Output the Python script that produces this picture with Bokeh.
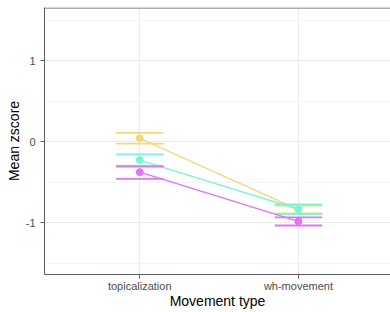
from bokeh.plotting import figure
from bokeh.models import FixedTicker, ColumnDataSource, Span
from bokeh.embed import file_html
from bokeh.resources import INLINE

categories = ["topicalization", "wh-movement"]
series_names = ["A", "B", "C"]
series_colors = ["#F5D77A", "#80F2D8", "#DD77F2"]
means = [[0.04, -0.84], [-0.228, -0.835], [-0.377, -0.985]]
upper = [[0.108, -0.79], [-0.158, -0.775], [-0.307, -0.935]]
lower = [[-0.025, -0.885], [-0.298, -0.895], [-0.46, -1.035]]

xpos = [i + 1 for i in range(len(categories))]
cap_half = 0.15
x_lo, x_hi = 0.4, 2.58
y_lo, y_hi = -1.64, 1.655

p = figure(width=390, height=312, output_backend="svg", toolbar_location=None,
           x_range=(x_lo, x_hi), y_range=(y_lo, y_hi),
           min_border_left=44, min_border_right=0, min_border_top=7, min_border_bottom=38)

for name, col, m, u, l in zip(series_names, series_colors, means, upper, lower):
    src = ColumnDataSource(dict(x=xpos, m=m, u=u, l=l,
                                x0=[x - cap_half for x in xpos],
                                x1=[x + cap_half for x in xpos]))
    p.line("x", "m", source=src, line_color=col, line_width=1.4)
    p.segment(x0="x0", x1="x1", y0="u", y1="u", source=src, line_color=col, line_width=1.8)
    p.segment(x0="x0", x1="x1", y0="l", y1="l", source=src, line_color=col, line_width=1.8)
    p.scatter("x", "m", source=src, size=7, fill_color=col, line_color=col)

font = "Liberation Sans"
p.xaxis.ticker = FixedTicker(ticks=xpos)
p.xaxis.major_label_overrides = {x: c for x, c in zip(xpos, categories)}
p.yaxis.ticker = FixedTicker(ticks=[-1, 0, 1], minor_ticks=[-1.5, -0.5, 0.5, 1.5])
p.yaxis.major_label_overrides = {-1: "-1", 0: "0", 1: "1"}

p.xaxis.axis_label = "Movement type"
p.yaxis.axis_label = "Mean zscore"
for ax in (p.xaxis, p.yaxis):
    ax.axis_label_text_font = font
    ax.axis_label_text_font_size = "14px"
    ax.axis_label_text_font_style = "normal"
    ax.axis_label_text_color = "black"
    ax.major_label_text_font = font
    ax.major_label_text_font_size = "11px"
    ax.major_label_text_color = "#4D4D4D"
    ax.axis_line_color = "#5A5A5A"
    ax.major_tick_line_color = "#5A5A5A"
    ax.major_tick_out = 4
    ax.major_tick_in = 0
    ax.minor_tick_line_color = None
p.xaxis.major_label_standoff = 1
p.xaxis.axis_label_standoff = -2
p.yaxis.major_label_standoff = 5
p.yaxis.axis_label_standoff = 1

p.xgrid.grid_line_color = "#EBEBEB"
p.ygrid.grid_line_color = "#EBEBEB"
p.ygrid.minor_grid_line_color = "#F4F4F4"
p.outline_line_color = None
p.add_layout(Span(location=y_hi - 0.006, dimension="width", line_color="#5A5A5A", line_width=1))
p.background_fill_color = "white"
p.border_fill_color = "white"

open("out.html", "w").write(file_html(p, INLINE))
